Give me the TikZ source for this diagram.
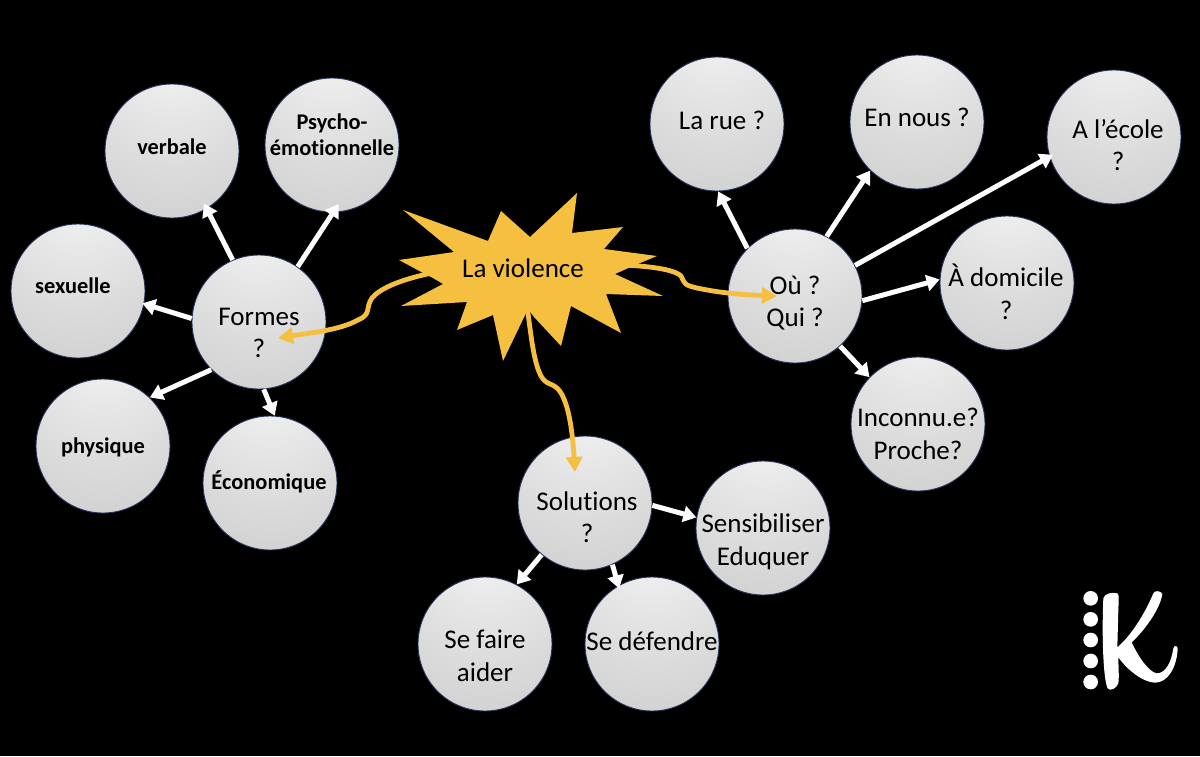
\documentclass[tikz,border=0pt]{standalone}
\usepackage{fontspec}
\setmainfont[Ligatures=NoCommon]{Carlito}
\usetikzlibrary{arrows.meta}
\pgfdeclarelayer{starlayer}
\pgfdeclarelayer{toplayer}
\pgfsetlayers{main,starlayer,toplayer}
\definecolor{starcol}{HTML}{F5BF3F}
\definecolor{rimcol}{HTML}{26325A}
\pgfdeclareradialshading{ballshade}{\pgfpoint{0bp}{42bp}}{
  color(0bp)=(black!3);color(15bp)=(black!8);color(35bp)=(black!14);color(60bp)=(black!21);color(80bp)=(black!29);color(100bp)=(black!34)}
\tikzset{
  ball/.style={circle,minimum size=134pt,inner sep=0pt,draw=rimcol,line width=0.9pt,shading=ballshade},
  lab/.style={align=center,font=\fontsize{27}{32.5}\selectfont,text=black,inner sep=0pt},
  blab/.style={align=center,font=\fontsize{22.4}{26}\selectfont\bfseries,text=black,inner sep=0pt},
  whitearrow/.style={draw=white,line width=5pt,-{Triangle[length=13pt,width=16pt]}},
  goldarrow/.style={draw=starcol,line width=4.8pt,-{Triangle[length=15pt,width=16pt]}}
}
\begin{document}
\begin{tikzpicture}[x=1pt,y=-1pt]
\useasboundingbox (0,0) rectangle (1200,756);
\fill[black] (0,0) rectangle (1200,756);
% left cluster
\node[ball,label={[blab,yshift=4pt]center:verbale}] (verbale) at (172,151) {};
\node[ball,label={[blab,yshift=10pt]center:Psycho-\\émotionnelle}] (psycho) at (332,145) {};
\node[ball,label={[blab,yshift=5pt,xshift=-5pt]center:sexuelle}] (sexuelle) at (78,291) {};
\node[ball,label={[lab,yshift=-11pt]center:Formes\\?}] (formes) at (259,322) {};
\node[ball,label={[blab,yshift=-1pt]center:physique}] (physique) at (103,446) {};
\node[ball,label={[blab,yshift=1pt,xshift=-1pt]center:Économique}] (eco) at (270,483) {};
% right cluster
\node[ball,label={[lab,yshift=4pt,xshift=5pt]center:La rue ?}] (rue) at (717,124) {};
\node[ball,label={[lab,yshift=5pt]center:En nous ?}] (nous) at (917,122) {};
\node[ball,label={[lab,yshift=-8pt,xshift=4pt]center:A l’école\\?}] (ecole) at (1114,137) {};
\node[ball,label={[lab,yshift=-7pt]center:Où ?\\Qui ?}] (ou) at (795,296) {};
\node[ball,label={[lab,yshift=-9pt,xshift=-1pt]center:À domicile\\?}] (domicile) at (1007,283) {};
\node[ball,label={[lab,yshift=-10pt]center:Inconnu.e?\\Proche?}] (inconnu) at (918,424) {};
% bottom cluster
\node[ball,label={[lab,yshift=-14pt,xshift=2pt]center:Solutions\\?}] (solutions) at (585,503) {};
\node[ball,label={[lab,yshift=-14pt]center:Sensibiliser\\Eduquer}] (sens) at (763,528) {};
\node[ball,label={[lab,yshift=-12pt]center:Se faire\\aider}] (aider) at (485,644) {};
\node[ball,label={[lab,yshift=3pt]center:Se défendre}] (defendre) at (652,644) {};
% white connectors
\draw[whitearrow,shorten >=-6pt] (formes.113.5) -- (verbale.-59.7);
\draw[whitearrow,shorten >=-10pt] (formes.55.8) -- (psycho.-89);
\draw[whitearrow,shorten >=-2pt] (formes.177.5) -- (sexuelle.-11);
\draw[whitearrow] (formes.-135) -- (physique.46);
\draw[whitearrow] (formes.-86) -- (eco.86.6);
\draw[whitearrow] (ou.135) -- (rue.-89);
\draw[whitearrow] (ou.62.7) -- (nous.-134);
\draw[whitearrow,shorten >=-4pt] (ou.27) -- (ecole.197);
\draw[whitearrow] (ou.-4) -- (domicile.177);
\draw[whitearrow] (ou.-48) -- (inconnu.136);
\draw[whitearrow] (solutions.-2) -- (sens.171.5);
\draw[whitearrow] (solutions.-130) -- (aider.62.7);
\draw[whitearrow,shorten >=-3pt] (solutions.-66.5) -- (defendre.120.6);
% centre
\begin{pgfonlayer}{toplayer}
\node[lab] (star) at (523,268) {La violence};
\end{pgfonlayer}
\coordinate (formesTip) at (278,338);
\coordinate (ouTip) at (777,296);
\coordinate (solTip) at (575,472);
% gold connectors
\draw[goldarrow] (star.west) .. controls (430,272) and (385,282) .. (372,298)
  .. controls (365,308) and (372,314) .. (358,320)
  .. controls (340,330) and (310,333) .. (formesTip);
\draw[goldarrow] (star.east) .. controls (610,262) and (672,266) .. (681,276)
  .. controls (685,284) and (684,285) .. (697,288)
  .. controls (725,294) and (750,295) .. (ouTip);
\draw[goldarrow] (star.south) .. controls (530,320) and (532,365) .. (543,379)
  .. controls (548,385) and (552,383) .. (558,389)
  .. controls (570,402) and (573,440) .. (solTip);
\begin{pgfonlayer}{starlayer}
\fill[starcol] (403,210)--(488,241)--(501,211)--(530,237)--(577,193)--(572,233)--(623,227)--(604,249)--(657,256)--(633,266)--(615,274)--(663,296)--(606,294)--(621,333)--(571,306)--(561,346)--(534,317)--(528,309)--(503,361)--(493,315)--(457,330)--(467,302)--(401,306)--(443,284)--(433,278)--(425,274)--(399,260)--(454,252)--cycle;
\end{pgfonlayer}
% logo
\begin{scope}[shift={(1060,570)},x=0.3333pt,y=-0.3333pt]
\foreach \yy in {85,148,210,273,336} \fill[white] (92,\yy) circle (22);
\fill[white] (130,85) .. controls (132,72) and (155,65) .. (172,70)
 .. controls (178,72) and (176,90) .. (175,120) -- (172,232)
 .. controls (215,195) and (255,130) .. (280,70)
 .. controls (284,60) and (303,62) .. (307,72)
 .. controls (300,120) and (250,185) .. (215,217)
 .. controls (235,260) and (265,305) .. (290,310)
 .. controls (320,310) and (335,270) .. (340,235)
 .. controls (342,225) and (354,226) .. (353,238)
 .. controls (350,290) and (325,338) .. (285,338)
 .. controls (240,335) and (195,290) .. (175,262)
 .. controls (175,290) and (178,320) .. (175,340)
 .. controls (170,355) and (150,365) .. (143,355)
 .. controls (130,330) and (125,200) .. (130,85) -- cycle;
\end{scope}
\end{tikzpicture}
\end{document}
